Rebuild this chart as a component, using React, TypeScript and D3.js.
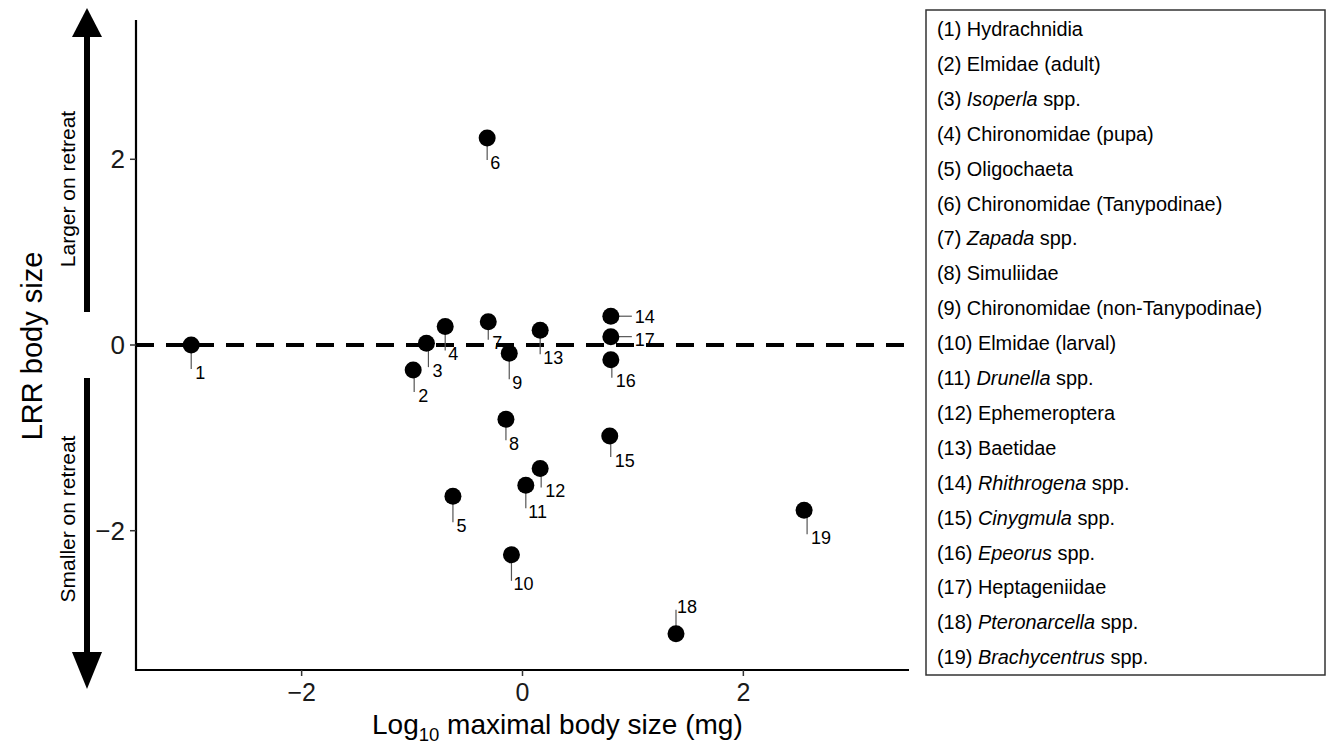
import React from 'react';
import * as d3 from 'd3';

// taxa, numbered as in the legend
const taxonNames = [
  'Hydrachnidia',
  'Elmidae (adult)',
  '*Isoperla* spp.',
  'Chironomidae (pupa)',
  'Oligochaeta',
  'Chironomidae (Tanypodinae)',
  '*Zapada* spp.',
  'Simuliidae',
  'Chironomidae (non-Tanypodinae)',
  'Elmidae (larval)',
  '*Drunella* spp.',
  'Ephemeroptera',
  'Baetidae',
  '*Rhithrogena* spp.',
  '*Cinygmula* spp.',
  '*Epeorus* spp.',
  'Heptageniidae',
  '*Pteronarcella* spp.',
  '*Brachycentrus* spp.'
];

// log10 maximal body size (mg)
const logMaxSize = [
  -3.0, -0.99, -0.87, -0.7, -0.63, -0.32, -0.31, -0.15, -0.12, -0.1,
  0.03, 0.16, 0.16, 0.8, 0.79, 0.8, 0.8, 1.39, 2.55
];

// log response ratio of body size
const lrrBodySize = [
  0.0, -0.27, 0.02, 0.2, -1.63, 2.23, 0.25, -0.8, -0.09, -2.26,
  -1.51, -1.33, 0.16, 0.31, -0.98, -0.16, 0.09, -3.11, -1.78
];

const xTicks = [-2, 0, 2];
const yTicks = [-2, 0, 2];

// repel-style label placement (px from the point): [label left, label centre]
const labelNudge = [
  [4, 27], [5, 25], [6, 27], [3, 27], [3.5, 29], [3, 25], [4, 21], [3, 24], [3, 29], [2, 29],
  [2.5, 26], [5, 22], [3, 27], [24, 0], [5, 24], [5, 21], [24, 3], [1, -27], [7, 27]
];

const font = '"Liberation Sans", Arial, sans-serif';
const fmt = (v: number) => (v < 0 ? '\u2212' + Math.abs(v) : String(v));

function LegendLabel({ id, name }: { id: number; name: string }) {
  const parts = name.split('*');
  return (
    <>
      <tspan>{`(${id}) `}</tspan>
      {parts.map((p, i) =>
        p ? (
          <tspan key={i} fontStyle={i % 2 === 1 ? 'italic' : 'normal'}>
            {p}
          </tspan>
        ) : null
      )}
    </>
  );
}

export default function App() {
  const width = 1326;
  const height = 744;
  const x = d3.scaleLinear().domain([-3.5, 3.5]).range([136, 909]);
  const y = d3.scaleLinear().domain([-3.5, 3.5]).range([670, 20]);

  const points = logMaxSize.map((v, i) => ({
    id: i + 1,
    cx: x(v),
    cy: y(lrrBodySize[i]),
    nudge: labelNudge[i]
  }));

  const legendTop = 29;
  const legendStep = 34.9;

  return (
    <svg
      width={width}
      height={height}
      style={{ position: 'absolute', left: 0, top: 0, background: '#fff' }}
      fontFamily={font}
    >
      {/* direction arrows */}
      <line x1={87} x2={87} y1={312} y2={34} stroke="#000" strokeWidth={6} />
      <path d="M87,8 L102,37 L72,37 Z" fill="#000" />
      <line x1={87} x2={87} y1={378} y2={656} stroke="#000" strokeWidth={6} />
      <path d="M87,689 L102,652 L72,652 Z" fill="#000" />
      <text transform="translate(75,189) rotate(-90)" textAnchor="middle" fontSize={21}>
        Larger on retreat
      </text>
      <text transform="translate(75,519) rotate(-90)" textAnchor="middle" fontSize={21}>
        Smaller on retreat
      </text>
      <text transform="translate(42,346) rotate(-90)" textAnchor="middle" fontSize={29}>
        LRR body size
      </text>

      {/* zero line */}
      <line
        x1={x(-3.5)}
        x2={x(3.5)}
        y1={y(0)}
        y2={y(0)}
        stroke="#000"
        strokeWidth={4}
        strokeDasharray="18 12"
      />

      {/* axes */}
      <line x1={136} x2={136} y1={y(3.5)} y2={y(-3.5) + 1} stroke="#000" strokeWidth={2.2} />
      <line x1={135} x2={x(3.5)} y1={y(-3.5)} y2={y(-3.5)} stroke="#000" strokeWidth={2.2} />
      {yTicks.map(t => (
        <g key={'y' + t}>
          <line x1={130} x2={136} y1={y(t)} y2={y(t)} stroke="#333" strokeWidth={1.5} />
          <text x={125} y={y(t) + 9} textAnchor="end" fontSize={26} fill="#1a1a1a">
            {fmt(t)}
          </text>
        </g>
      ))}
      {xTicks.map(t => (
        <g key={'x' + t}>
          <line x1={x(t)} x2={x(t)} y1={670} y2={676} stroke="#333" strokeWidth={1.5} />
          <text x={x(t)} y={701} textAnchor="middle" fontSize={25} fill="#1a1a1a">
            {fmt(t)}
          </text>
        </g>
      ))}
      <text x={372} y={734} fontSize={28}>
        Log<tspan fontSize={18.5} dy={7}>10</tspan>
        <tspan dy={-7}> maximal body size (mg)</tspan>
      </text>

      {/* label segments */}
      {points.map(p => {
        const [dx, dy] = p.nudge;
        if (Math.abs(dy) > Math.abs(dx)) {
          const sx = p.cx + Math.max(0, dx - 4);
          return (
            <line
              key={'s' + p.id}
              x1={sx}
              x2={sx}
              y1={p.cy}
              y2={p.cy + dy - Math.sign(dy) * 3}
              stroke="#555"
              strokeWidth={1.2}
            />
          );
        }
        return (
          <line
            key={'s' + p.id}
            x1={p.cx}
            x2={p.cx + dx - 3}
            y1={p.cy}
            y2={p.cy}
            stroke="#555"
            strokeWidth={1.2}
          />
        );
      })}

      {/* points */}
      {points.map(p => (
        <circle key={'c' + p.id} cx={p.cx} cy={p.cy} r={8.5} fill="#000" />
      ))}

      {/* point labels */}
      {points.map(p => (
        <text
          key={'t' + p.id}
          x={p.cx + p.nudge[0]}
          y={p.cy + p.nudge[1] + 6.5}
          fontSize={18}
          fill="#000"
        >
          {p.id}
        </text>
      ))}

      {/* legend */}
      <rect x={926} y={10} width={399} height={665} fill="none" stroke="#333" strokeWidth={1.5} />
      {taxonNames.map((name, i) => (
        <text key={'l' + i} x={937} y={legendTop + i * legendStep + 7} fontSize={19.9} fill="#000">
          <LegendLabel id={i + 1} name={name} />
        </text>
      ))}
    </svg>
  );
}
